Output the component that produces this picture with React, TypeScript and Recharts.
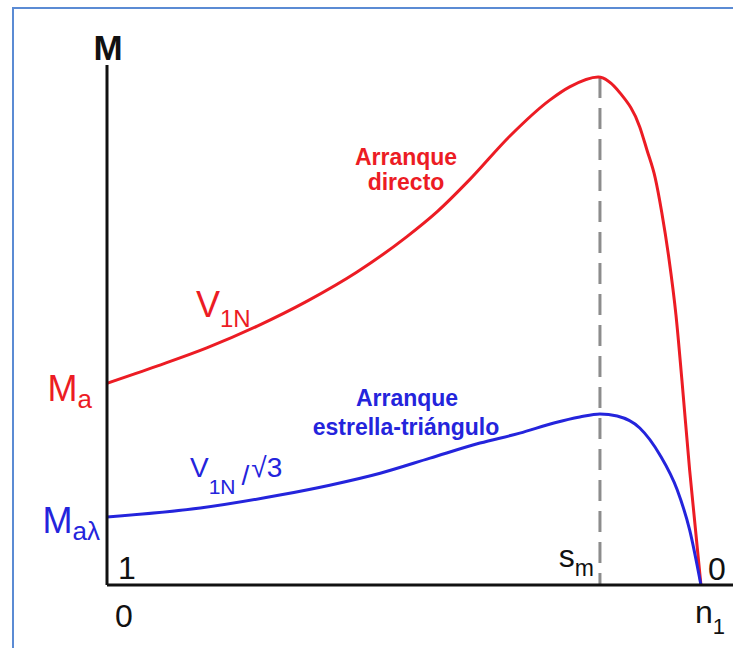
import React from 'react';
import { LineChart, Line, XAxis, YAxis, ReferenceLine } from 'recharts';

// speed axis: 0 .. n1 (n1 = 1), slip runs 1 .. 0 the other way
const directX = [0, 0.084, 0.168, 0.253, 0.337, 0.421, 0.505, 0.556, 0.611, 0.678, 0.746, 0.779, 0.827, 0.864, 0.897, 0.909, 0.923, 0.934, 0.946, 0.958, 0.968, 0.981, 1];
const directM = [38.8, 42.1, 45.6, 49.8, 54.6, 60.2, 67.0, 71.8, 78.0, 86.3, 93.3, 95.8, 97.7, 94.6, 88.1, 83.7, 78.3, 71.7, 62.9, 51.9, 39.4, 22.1, 0];

const starX = [0, 0.157, 0.291, 0.375, 0.46, 0.544, 0.628, 0.695, 0.754, 0.796, 0.83, 0.859, 0.897, 0.931, 0.96, 0.981, 1];
const starM = [13.1, 14.8, 17.3, 19.2, 21.5, 24.4, 27.3, 29.2, 31.2, 32.3, 32.9, 32.5, 30.2, 25.0, 18.3, 10.6, 0];

const smX = 0.83;
const smPeak = 97.7;

const xTicks = [0, smX, 1];
const speedLabels = ['0', '', 'n'];
const slipLabels = ['1', 's', '0'];

const yTicks = [starM[0], directM[0]];
const yLabels = ['Ma\u03bb', 'Ma'];

const RED = '#ec1c24';
const BLUE = '#2424dc';
const FONT = '"Liberation Sans", Arial, Helvetica, sans-serif';

const directData = directX.map((x, i) => ({ x, m: directM[i] }));
const starData = starX.map((x, i) => ({ x, m: starM[i] }));

function SpeedTick(props: any) {
  const { x, y, index } = props;
  if (index === 0) {
    return <g fontFamily={FONT}>
        <text x={x + 8} y={y + 42} fontSize={32} fill="#111">{speedLabels[0]}</text>
        <text x={x + 11} y={y - 6} fontSize={32} fill="#111">{slipLabels[0]}</text>
      </g>;
  }
  if (index === 1) {
    return <g fontFamily={FONT}>
        <text x={x - 6} y={y - 18} fontSize={32} textAnchor="end" fill="#111">
          {slipLabels[1]}
          <tspan fontSize={23} dy={9}>m</tspan>
        </text>
      </g>;
  }
  return <g fontFamily={FONT}>
      <text x={x - 6} y={y + 38} fontSize={32} fill="#111">
        {speedLabels[2]}
        <tspan fontSize={22} dy={11}>1</tspan>
      </text>
      <text x={x + 7} y={y - 5} fontSize={32} fill="#111">{slipLabels[2]}</text>
    </g>;
}

function TorqueTick(props: any) {
  const { x, y, index } = props;
  const color = index === 0 ? BLUE : RED;
  const label = yLabels[index];
  return <text x={x - (index === 0 ? 7 : 15)} y={y + (index === 0 ? 16 : 18)} textAnchor="end" fontFamily={FONT} fontSize={36} fill={color}>
      {label[0]}
      <tspan fontSize={26} dy={7}>{label.slice(1)}</tspan>
    </text>;
}

export default function App() {
  return <div style={{ position: 'absolute', left: 0, top: 0, width: 733, height: 648, background: '#fff', overflow: 'hidden' }}>
      <div style={{ position: 'absolute', left: 12, top: 7, right: -4, bottom: -4, borderLeft: '2px solid #5b8bd4', borderTop: '2px solid #5b8bd4' }} />
      <LineChart width={733} height={648} data={directData} margin={{ top: 65, right: 0, bottom: 0, left: 0 }}>
        <XAxis type="number" dataKey="x" domain={[0, 1.054]} ticks={xTicks} height={63} tickSize={0} tickMargin={0} tickLine={false} axisLine={{ stroke: '#111', strokeWidth: 3 }} tick={<SpeedTick />} interval={0} allowDataOverflow />
        <YAxis type="number" domain={[0, 100]} ticks={yTicks} width={107} tickSize={0} tickMargin={0} tickLine={false} axisLine={{ stroke: '#111', strokeWidth: 3 }} tick={<TorqueTick />} interval={0} allowDataOverflow />
        <ReferenceLine segment={[{ x: smX, y: smPeak }, { x: smX, y: 0 }]} stroke="#8c8c8c" strokeWidth={3} strokeDasharray="21 10" />
        <Line data={directData} dataKey="m" type="monotone" stroke={RED} strokeWidth={3} dot={false} isAnimationActive={false} />
        <Line data={starData} dataKey="m" type="monotone" stroke={BLUE} strokeWidth={3} dot={false} isAnimationActive={false} />
      </LineChart>
      <svg width={733} height={648} style={{ position: 'absolute', left: 0, top: 0, pointerEvents: 'none' }} fontFamily={FONT}>
        <text x={108} y={60} textAnchor="middle" fontSize={35} fontWeight="bold" fill="#111">M</text>
        <text x={406} y={165} textAnchor="middle" fontSize={23} fontWeight="bold" fill={RED}>Arranque</text>
        <text x={406} y={190} textAnchor="middle" fontSize={23} fontWeight="bold" fill={RED}>directo</text>
        <text x={196} y={317} fontSize={36} fill={RED}>
          V<tspan fontSize={24} dy={10}>1N</tspan>
        </text>
        <text x={407} y={406} textAnchor="middle" fontSize={23} fontWeight="bold" fill={BLUE}>Arranque</text>
        <text x={406} y={435} textAnchor="middle" fontSize={23} fontWeight="bold" fill={BLUE}>estrella-triángulo</text>
        <text x={190} y={477} fontSize={28} fill={BLUE}>
          V<tspan fontSize={21} dy={17}>1N</tspan>
          <tspan fontSize={28} dy={-9} dx={6}>/</tspan>
          <tspan fontSize={28} dy={-8} dx={2}>{'\u221a3'}</tspan>
        </text>
      </svg>
    </div>;
}
